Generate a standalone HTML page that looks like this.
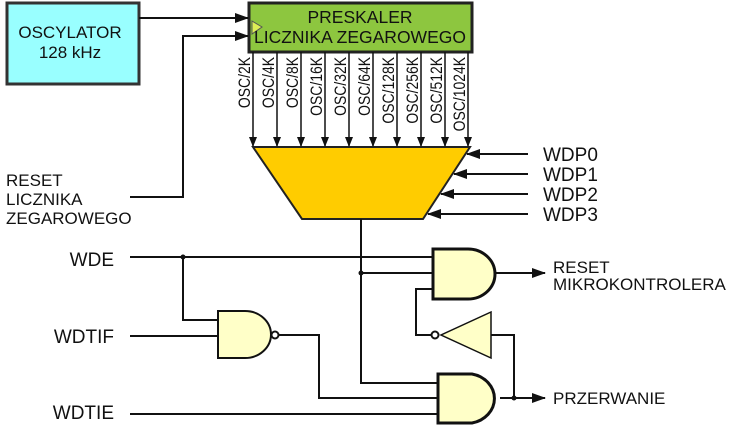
<!DOCTYPE html><html><head><style>body{margin:0;background:#fff}svg{display:block}text{font-family:"Liberation Sans",Arial,sans-serif;fill:#111}</style></head><body>
<svg width="741" height="431" viewBox="0 0 741 431" xmlns="http://www.w3.org/2000/svg">
<defs><marker id="a" markerWidth="10" markerHeight="8" refX="9" refY="4" orient="auto" markerUnits="userSpaceOnUse"><path d="M0,0L10,4L0,8z" fill="#111"/></marker>
<marker id="b" markerWidth="14" markerHeight="10" refX="13" refY="5" orient="auto" markerUnits="userSpaceOnUse"><path d="M0,0L14,5L0,10z" fill="#111"/></marker></defs>
<g stroke="#111" stroke-width="2" fill="none">
<rect x="7" y="3" width="132" height="81" fill="#99ffff" stroke="#333" stroke-width="3"/>
<rect x="249" y="3" width="223" height="49" fill="#8dc63f" stroke="#222" stroke-width="3"/>
<polygon points="252,21 262,27 252,34" fill="#ddee55" stroke="#555" stroke-width="1"/>
<line x1="139" y1="18" x2="248" y2="18" marker-end="url(#b)"/>
<polyline points="130,197 183,197 183,36 248,36" marker-end="url(#b)"/>
<polygon points="253,147 470,147 423,219 302,219" fill="#ffcc00" stroke="#222" stroke-width="2"/>
<g stroke-width="1.5">
<line x1="253" y1="52" x2="253" y2="146" marker-end="url(#a)"/><line x1="277" y1="52" x2="277" y2="146" marker-end="url(#a)"/><line x1="301" y1="52" x2="301" y2="146" marker-end="url(#a)"/><line x1="325" y1="52" x2="325" y2="146" marker-end="url(#a)"/><line x1="349" y1="52" x2="349" y2="146" marker-end="url(#a)"/><line x1="373" y1="52" x2="373" y2="146" marker-end="url(#a)"/><line x1="397" y1="52" x2="397" y2="146" marker-end="url(#a)"/><line x1="421" y1="52" x2="421" y2="146" marker-end="url(#a)"/><line x1="445" y1="52" x2="445" y2="146" marker-end="url(#a)"/><line x1="468" y1="52" x2="468" y2="146" marker-end="url(#a)"/>
</g>
<line x1="528" y1="154" x2="467" y2="154" marker-end="url(#b)"/>
<line x1="528" y1="174" x2="454" y2="174" marker-end="url(#b)"/>
<line x1="528" y1="194" x2="441" y2="194" marker-end="url(#b)"/>
<line x1="528" y1="214" x2="428" y2="214" marker-end="url(#b)"/>
<polyline points="361,219 361,383 438,383"/>
<line x1="361" y1="273" x2="433" y2="273"/>
<line x1="130" y1="257" x2="433" y2="257"/>
<polyline points="183,257 183,320 218,320"/>
<line x1="130" y1="336" x2="218" y2="336"/>
<line x1="130" y1="414" x2="438" y2="414"/>
<polyline points="279,335 319,335 319,398 438,398"/>
<polyline points="431,335 416,335 416,289 433,289"/>
<polyline points="491,335 514,335 514,398"/>
<line x1="496" y1="273" x2="545" y2="273" marker-end="url(#b)"/>
<line x1="500" y1="398" x2="545" y2="398" marker-end="url(#b)"/>
<path d="M433,249 H468 A27,25 0 0 1 468,299 H433 Z" fill="#ffffc8" stroke-width="3"/>
<path d="M438,374 H472 A28,25 0 0 1 472,423 H438 Z" fill="#ffffc8" stroke-width="3"/>
<path d="M218,311 H245 A26,23.5 0 0 1 245,358 H218 Z" fill="#ffffc8"/>
<circle cx="275" cy="335" r="3.5" fill="#fff"/>
<polygon points="491,312 491,358 441,335" fill="#ffffc8" stroke-width="1.5"/>
<circle cx="435" cy="335" r="3.5" fill="#fff"/>
</g>
<g fill="#111"><circle cx="183" cy="257" r="2.5"/><circle cx="361" cy="273" r="2.5"/><circle cx="514" cy="398" r="2.5"/></g>
<text x="70" y="38" font-size="17" text-anchor="middle">OSCYLATOR</text>
<text x="70" y="58" font-size="17" text-anchor="middle">128 kHz</text>
<text x="360" y="23" font-size="17.5" text-anchor="middle">PRESKALER</text>
<text x="360" y="43" font-size="17.5" text-anchor="middle">LICZNIKA ZEGAROWEGO</text>
<g font-size="17" text-anchor="end">
<text transform="translate(250,57) rotate(-90) scale(0.82,1)">OSC/2K</text>
<text transform="translate(274,57) rotate(-90) scale(0.82,1)">OSC/4K</text>
<text transform="translate(298,57) rotate(-90) scale(0.82,1)">OSC/8K</text>
<text transform="translate(322,57) rotate(-90) scale(0.82,1)">OSC/16K</text>
<text transform="translate(346,57) rotate(-90) scale(0.82,1)">OSC/32K</text>
<text transform="translate(370,57) rotate(-90) scale(0.82,1)">OSC/64K</text>
<text transform="translate(394,57) rotate(-90) scale(0.82,1)">OSC/128K</text>
<text transform="translate(418,57) rotate(-90) scale(0.82,1)">OSC/256K</text>
<text transform="translate(442,57) rotate(-90) scale(0.82,1)">OSC/512K</text>
<text transform="translate(465,57) rotate(-90) scale(0.82,1)">OSC/1024K</text>
</g>
<g font-size="19"><text x="543" y="161">WDP0</text><text x="543" y="181">WDP1</text><text x="543" y="201">WDP2</text><text x="543" y="221">WDP3</text></g>
<g font-size="17"><text x="6" y="186">RESET</text><text x="6" y="205">LICZNIKA</text><text x="6" y="224">ZEGAROWEGO</text>
<text x="553" y="273">RESET</text><text x="553" y="290">MIKROKONTROLERA</text><text x="553" y="404">PRZERWANIE</text></g>
<g font-size="19" text-anchor="end"><text x="114" y="266">WDE</text><text x="114" y="343">WDTIF</text><text x="114" y="419">WDTIE</text></g>
</svg></body></html>
